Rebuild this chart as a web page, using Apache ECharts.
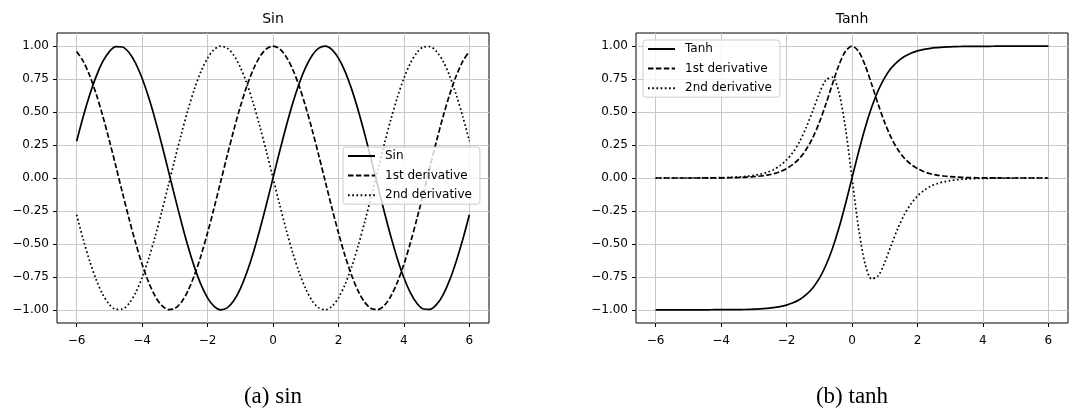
<!DOCTYPE html>
<html>
<head>
<meta charset="utf-8">
<script src="https://cdn.jsdelivr.net/npm/echarts@6/dist/echarts.min.js"></script>
<style>
html,body{margin:0;padding:0;background:#fff;}
#chart{width:1077px;height:417px;}
</style>
</head>
<body>
<div id="chart"></div>
<script>
// ---- data ----
const xValues = [-6,-5.8,-5.6,-5.4,-5.2,-5,-4.8,-4.6,-4.4,-4.2,-4,-3.8,-3.6,-3.4,-3.2,-3,-2.8,-2.6,-2.4,-2.2,-2,-1.8,-1.6,-1.4,-1.2,-1,-0.8,-0.6,-0.4,-0.2,0,0.2,0.4,0.6,0.8,1,1.2,1.4,1.6,1.8,2,2.2,2.4,2.6,2.8,3,3.2,3.4,3.6,3.8,4,4.2,4.4,4.6,4.8,5,5.2,5.4,5.6,5.8,6];

const sinValues = [0.279,0.465,0.631,0.773,0.884,0.959,0.996,0.994,0.952,0.872,0.757,0.612,0.443,0.256,0.058,-0.141,-0.335,-0.516,-0.676,-0.809,-0.909,-0.974,-1.000,-0.985,-0.932,-0.841,-0.717,-0.565,-0.389,-0.199,0,0.199,0.389,0.565,0.717,0.841,0.932,0.985,1.000,0.974,0.909,0.809,0.676,0.516,0.335,0.141,-0.058,-0.256,-0.443,-0.612,-0.757,-0.872,-0.952,-0.994,-0.996,-0.959,-0.884,-0.773,-0.631,-0.465,-0.279];
const sinFirstDeriv = [0.960,0.886,0.776,0.635,0.469,0.284,0.088,-0.112,-0.307,-0.490,-0.654,-0.791,-0.897,-0.967,-0.998,-0.990,-0.942,-0.857,-0.737,-0.589,-0.416,-0.227,-0.029,0.170,0.362,0.540,0.697,0.825,0.921,0.980,1.000,0.980,0.921,0.825,0.697,0.540,0.362,0.170,-0.029,-0.227,-0.416,-0.589,-0.737,-0.857,-0.942,-0.990,-0.998,-0.967,-0.897,-0.791,-0.654,-0.490,-0.307,-0.112,0.088,0.284,0.469,0.635,0.776,0.886,0.960];
const sinSecondDeriv = [-0.279,-0.465,-0.631,-0.773,-0.884,-0.959,-0.996,-0.994,-0.952,-0.872,-0.757,-0.612,-0.443,-0.256,-0.058,0.141,0.335,0.516,0.676,0.809,0.909,0.974,1.000,0.985,0.932,0.841,0.717,0.565,0.389,0.199,0,-0.199,-0.389,-0.565,-0.717,-0.841,-0.932,-0.985,-1.000,-0.974,-0.909,-0.809,-0.676,-0.516,-0.335,-0.141,0.058,0.256,0.443,0.612,0.757,0.872,0.952,0.994,0.996,0.959,0.884,0.773,0.631,0.465,0.279];

const tanhValues = [-1.000,-1.000,-1.000,-1.000,-1.000,-1.000,-1.000,-1.000,-1.000,-0.999,-0.999,-0.999,-0.999,-0.998,-0.997,-0.995,-0.993,-0.989,-0.984,-0.976,-0.964,-0.947,-0.922,-0.885,-0.834,-0.762,-0.664,-0.537,-0.380,-0.197,0,0.197,0.380,0.537,0.664,0.762,0.834,0.885,0.922,0.947,0.964,0.976,0.984,0.989,0.993,0.995,0.997,0.998,0.999,0.999,0.999,0.999,1.000,1.000,1.000,1.000,1.000,1.000,1.000,1.000,1.000];
const tanhFirstDeriv = [0.000,0.000,0.000,0.000,0.000,0.000,0.000,0.000,0.001,0.001,0.001,0.002,0.003,0.004,0.007,0.010,0.015,0.022,0.032,0.048,0.071,0.104,0.150,0.216,0.305,0.420,0.559,0.712,0.856,0.961,1.000,0.961,0.856,0.712,0.559,0.420,0.305,0.216,0.150,0.104,0.071,0.048,0.032,0.022,0.015,0.010,0.007,0.004,0.003,0.002,0.001,0.001,0.001,0.000,0.000,0.000,0.000,0.000,0.000,0.000,0.000];
const tanhSecondDeriv = [0.000,0.000,0.000,0.000,0.000,0.000,0.001,0.001,0.001,0.002,0.003,0.004,0.006,0.009,0.013,0.020,0.029,0.043,0.063,0.094,0.137,0.197,0.277,0.383,0.509,0.640,0.742,0.765,0.650,0.379,0,-0.379,-0.650,-0.765,-0.742,-0.640,-0.509,-0.383,-0.277,-0.197,-0.137,-0.094,-0.063,-0.043,-0.029,-0.020,-0.013,-0.009,-0.006,-0.004,-0.003,-0.002,-0.001,-0.001,-0.001,0.000,0.000,0.000,0.000,0.000,0.000];

const xTicks = [-6,-4,-2,0,2,4,6];
const yTicks = [-1,-0.75,-0.5,-0.25,0,0.25,0.5,0.75,1];
const panelTitles = ['Sin','Tanh'];
const captions = ['(a) sin','(b) tanh'];
const seriesNamesSin = ['Sin','1st derivative','2nd derivative'];
const seriesNamesTanh = ['Tanh','1st derivative','2nd derivative'];

// ---- chart ----
const pairs = ys => xValues.map((x,i)=>[x, ys[i]]);
const minus = '\u2212';
const fmtX = v => (v < 0 ? minus : '') + Math.abs(v);
const fmtY = v => (v < -1e-9 ? minus : '') + Math.abs(v).toFixed(2);
const FONT = 'DejaVu Sans';
const LW = 1.7;
const dashTypes = ['solid', [5.5,2.4], [1.7,2.5]];

const grids = [
  {left:57, top:33, width:432, height:290},
  {left:636, top:33, width:432, height:290}
];

function xAxis(i){
  return {
    type:'value', gridIndex:i, min:-6.6, max:6.6,
    axisLine:{show:false, onZero:false},
    axisTick:{show:true, length:4, lineStyle:{color:'#000', width:1}, customValues:xTicks},
    axisLabel:{customValues:xTicks, formatter:fmtX, color:'#000', fontFamily:FONT, fontSize:12, margin:12},
    splitLine:{show:true, lineStyle:{color:'#c8c8c8', width:1}}
  };
}
function yAxis(i){
  return {
    type:'value', gridIndex:i, min:-1.1, max:1.1,
    axisLine:{show:false, onZero:false},
    axisTick:{show:true, length:4, lineStyle:{color:'#000', width:1}, customValues:yTicks},
    axisLabel:{customValues:yTicks, formatter:fmtY, color:'#000', fontFamily:FONT, fontSize:12, margin:8},
    splitLine:{show:true, lineStyle:{color:'#c8c8c8', width:1}}
  };
}

function mk(name, ys, k, gi){
  return {
    name, type:'line', xAxisIndex:gi, yAxisIndex:gi,
    data:pairs(ys), showSymbol:false, symbol:'none', smooth:0.3,
    lineStyle:{color:'#000', width:LW, type:dashTypes[k]},
    itemStyle:{color:'#000'},
    animation:false, z:3
  };
}

const legendBase = {
  orient:'vertical', itemWidth:27, itemHeight:14, itemGap:7.6,
  padding:[3,8,3,4], backgroundColor:'rgba(255,255,255,0.8)', borderColor:'#cccccc',
  borderWidth:1, borderRadius:3,
  itemStyle:{color:'rgba(0,0,0,0)', borderColor:'rgba(0,0,0,0)', borderWidth:0, opacity:0},
  textStyle:{color:'#000', fontFamily:FONT, fontSize:12, padding:[0,0,0,5]},
  selectedMode:false, z:10
};

const chart = echarts.init(document.getElementById('chart'), null, {renderer:'canvas'});
chart.setOption({
  animation:false,
  backgroundColor:'#fff',
  title:[
    {text:panelTitles[0], left:273, top:12, textAlign:'center', padding:0, textStyle:{fontFamily:FONT, fontSize:14, fontWeight:'normal', color:'#000'}},
    {text:panelTitles[1], left:852, top:12, textAlign:'center', padding:0, textStyle:{fontFamily:FONT, fontSize:14, fontWeight:'normal', color:'#000'}},
    {text:captions[0], left:273, top:385, textAlign:'center', padding:0, textStyle:{fontFamily:'Liberation Serif', fontSize:23, fontWeight:'normal', color:'#000'}},
    {text:captions[1], left:852, top:385, textAlign:'center', padding:0, textStyle:{fontFamily:'Liberation Serif', fontSize:23, fontWeight:'normal', color:'#000'}}
  ],
  grid:grids.map(g=>Object.assign({show:true, borderColor:'#000', borderWidth:1, backgroundColor:'transparent'}, g)),
  xAxis:[xAxis(0), xAxis(1)],
  yAxis:[yAxis(0), yAxis(1)],
  legend:[
    Object.assign({}, legendBase, {left:343, top:147, data:seriesNamesSin}),
    Object.assign({}, legendBase, {left:643, top:40, data:seriesNamesTanh})
  ],
  series:[
    mk(seriesNamesSin[0], sinValues, 0, 0),
    mk(seriesNamesSin[1], sinFirstDeriv, 1, 0),
    mk(seriesNamesSin[2], sinSecondDeriv, 2, 0),
    mk(seriesNamesTanh[0], tanhValues, 0, 1),
    mk(seriesNamesTanh[1], tanhFirstDeriv, 1, 1),
    mk(seriesNamesTanh[2], tanhSecondDeriv, 2, 1)
  ]
});
</script>
</body>
</html>
